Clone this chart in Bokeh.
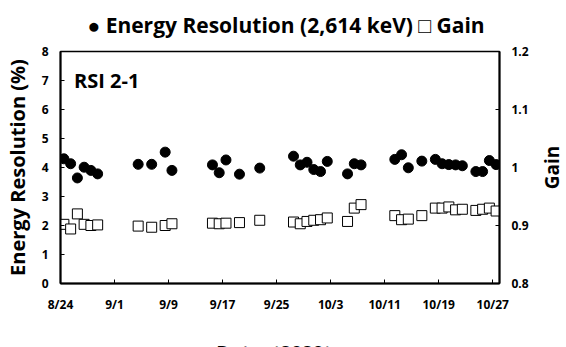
import math
import pandas as pd
from bokeh.plotting import figure
from bokeh.models import Range1d, LinearAxis, FixedTicker, Label, Title, ColumnDataSource
from bokeh.embed import file_html
from bokeh.resources import INLINE

# ---- data ----
dates = ["2020-08-24", "2020-08-25", "2020-08-26", "2020-08-27", "2020-08-28", "2020-08-29",
         "2020-09-04", "2020-09-06", "2020-09-08", "2020-09-09",
         "2020-09-15", "2020-09-16", "2020-09-17", "2020-09-19", "2020-09-22",
         "2020-09-27", "2020-09-28", "2020-09-29", "2020-09-30", "2020-10-01", "2020-10-02",
         "2020-10-05", "2020-10-06", "2020-10-07",
         "2020-10-12", "2020-10-13", "2020-10-14", "2020-10-16", "2020-10-18", "2020-10-19",
         "2020-10-20", "2020-10-21", "2020-10-22", "2020-10-24", "2020-10-25", "2020-10-26",
         "2020-10-27"]
energy_resolution = [4.30, 4.13, 3.64, 4.01, 3.90, 3.78,
                     4.11, 4.11, 4.53, 3.90,
                     4.09, 3.82, 4.26, 3.77, 3.98,
                     4.39, 4.09, 4.18, 3.93, 3.86, 4.21,
                     3.78, 4.13, 4.09,
                     4.28, 4.44, 3.99, 4.22, 4.28, 4.13,
                     4.10, 4.09, 4.06, 3.86, 3.86, 4.24,
                     4.10]
gain = [0.902, 0.894, 0.920, 0.902, 0.900, 0.901,
        0.899, 0.897, 0.900, 0.903,
        0.904, 0.903, 0.904, 0.905, 0.909,
        0.906, 0.903, 0.907, 0.909, 0.910, 0.913,
        0.907, 0.930, 0.936,
        0.917, 0.910, 0.911, 0.917, 0.930, 0.930,
        0.932, 0.927, 0.928, 0.926, 0.928, 0.930,
        0.925]
tick_labels = ["8/24", "9/1", "9/9", "9/17", "9/25", "10/3", "10/11", "10/19", "10/27"]
gain_ticks = [0.8, 0.9, 1.0, 1.1, 1.2]
gain_labels = ["0.8", "0.9", "1", "1.1", "1.2"]
title_text = "● Energy Resolution (2,614 keV) □ Gain"
panel_text = "RSI 2-1"
x_title = "Date（2020）"

start = pd.Timestamp("2020-08-24")
day = [(pd.Timestamp(d) - start).days + 0.5 for d in dates]
tick_pos = [8 * i for i in range(len(tick_labels))]

src = ColumnDataSource(dict(day=day, er=energy_resolution, gain=gain))

FONT = "Open Sans"

p = figure(width=566, height=347, output_backend="svg", toolbar_location=None,
           x_range=Range1d(0, 65), y_range=Range1d(0, 8),
           min_border_left=60, min_border_right=67, min_border_top=51, min_border_bottom=64)
p.title_location = None
p.background_fill_color = "white"
p.border_fill_color = "white"
p.outline_line_color = "black"
p.outline_line_width = 1.5
p.xgrid.visible = False
p.ygrid.visible = False

# small spacer between frame and title, then the title itself
spacer = Title(text=" ", text_font_size="6px")
if "standoff" in spacer.properties():
    spacer.standoff = 0
p.add_layout(spacer, "above")
p.add_layout(Title(text=title_text, align="left", offset=27, text_font=FONT,
                   text_font_size="21px", text_font_style="bold", text_color="black"), "above")

p.extra_y_ranges = {"gain": Range1d(0.8, 1.2)}

def style_axis(ax):
    ax.axis_line_color = "black"
    ax.axis_line_width = 2
    ax.major_tick_in = 4
    ax.major_tick_out = 0
    ax.major_tick_line_color = "black"
    ax.major_tick_line_width = 1
    ax.minor_tick_line_color = None
    ax.major_label_text_font = FONT
    ax.major_label_text_font_style = "bold"
    ax.major_label_text_font_size = "12px"
    ax.major_label_text_color = "black"
    ax.axis_label_text_font = FONT
    ax.axis_label_text_font_style = "bold"
    ax.axis_label_text_font_size = "19px"
    ax.axis_label_text_color = "black"

xa = p.xaxis[0]
xa.ticker = FixedTicker(ticks=tick_pos)
xa.major_label_overrides = {t: l for t, l in zip(tick_pos, tick_labels)}
style_axis(xa)
xa.major_label_standoff = 12

ya = p.yaxis[0]
ya.ticker = FixedTicker(ticks=list(range(0, 9)))
ya.axis_label = "Energy Resolution (%)"
style_axis(ya)
ya.axis_label_text_font_size = "20px"
ya.major_label_standoff = 12
ya.axis_label_standoff = 8

ra = LinearAxis(y_range_name="gain", ticker=FixedTicker(ticks=gain_ticks))
ra.major_label_overrides = {t: l for t, l in zip(gain_ticks, gain_labels)}
style_axis(ra)
ra.major_label_standoff = 12
p.add_layout(ra, "right")
# right-hand axis title, reading bottom-to-top, in a side panel next to the axis
p.add_layout(Label(x=20, y=116, x_units="screen", y_units="screen", text="Gain",
                   angle=math.pi / 2, text_font=FONT, text_font_style="bold",
                   text_font_size="19px", text_color="black",
                   text_align="center", text_baseline="middle"), "right")
# bottom axis title in a side panel below the axis
p.add_layout(Label(x=219, y=-11, x_units="screen", y_units="screen", text=x_title,
                   text_font=FONT, text_font_style="bold",
                   text_font_size="19px", text_color="black",
                   text_align="center", text_baseline="middle"), "below")

p.scatter("day", "gain", source=src, y_range_name="gain", marker="square", size=10,
          fill_color="white", line_color="black", line_width=1)
p.scatter("day", "er", source=src, marker="circle", size=10,
          fill_color="black", line_color="black")

p.add_layout(Label(x=2, y=7.0, text=panel_text, text_font=FONT, text_font_style="bold",
                   text_font_size="20px", text_color="black", text_baseline="middle"))

open("out.html", "w").write(file_html(p, INLINE))
